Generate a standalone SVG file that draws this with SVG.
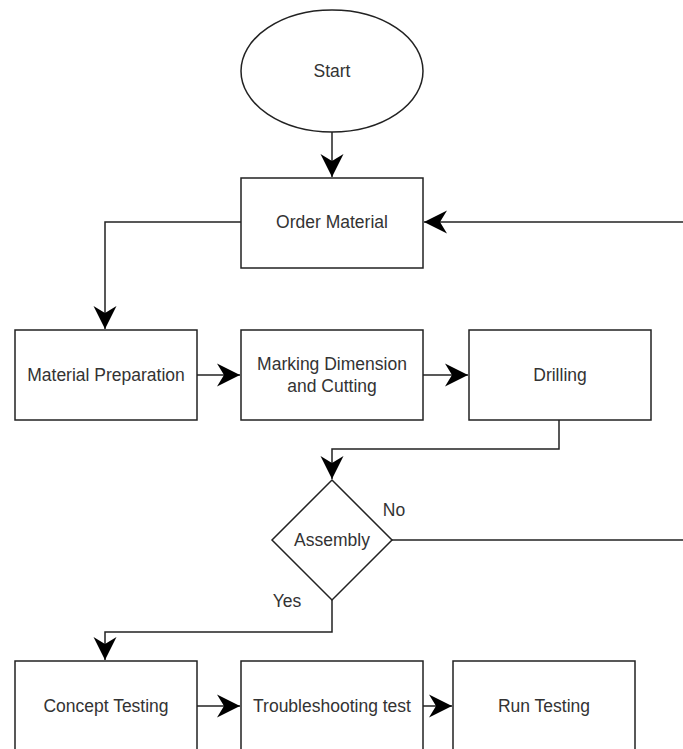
<svg xmlns="http://www.w3.org/2000/svg" width="683" height="749" viewBox="0 0 683 749">
<style>
.shape{fill:#fff;stroke:#222;stroke-width:1.5}
.edge{fill:none;stroke:#222;stroke-width:1.5}
text{font-family:"Liberation Sans",Arial,sans-serif;font-size:17.5px;fill:#333;text-anchor:middle;dominant-baseline:central}
</style>
<defs>
<marker id="arr" markerUnits="userSpaceOnUse" markerWidth="26" markerHeight="26" viewBox="-24 -13 26 26" refX="0" refY="0" orient="auto">
<path d="M0,0 L-23,-11.5 L-16,0 L-23,11.5 Z" fill="#000"/>
</marker>
</defs>
<rect width="683" height="749" fill="#fff"/>
<g id="connectors">
<path class="edge" d="M332,132 L332,177" marker-end="url(#arr)"/>
<path class="edge" d="M683,222 L424,222" marker-end="url(#arr)"/>
<path class="edge" d="M241,222 L105,222 L105,329" marker-end="url(#arr)"/>
<path class="edge" d="M197,375 L240,375" marker-end="url(#arr)"/>
<path class="edge" d="M423,375 L468,375" marker-end="url(#arr)"/>
<path class="edge" d="M559,420 L559,449 L332,449 L332,479" marker-end="url(#arr)"/>
<path class="edge" d="M392,540 L683,540"/>
<path class="edge" d="M332,600 L332,632 L105,632 L105,660" marker-end="url(#arr)"/>
<path class="edge" d="M197,706 L240,706" marker-end="url(#arr)"/>
<path class="edge" d="M423,706 L452,706" marker-end="url(#arr)"/>
<text x="394" y="510">No</text>
<text x="287" y="601">Yes</text>
</g>
<g id="start"><ellipse class="shape" cx="332" cy="71" rx="91" ry="61"/><text x="332" y="71">Start</text></g>
<g id="order"><rect class="shape" x="241" y="178" width="182" height="90"/><text x="332" y="222">Order Material</text></g>
<g id="prep"><rect class="shape" x="15" y="330" width="182" height="90"/><text x="106" y="375">Material Preparation</text></g>
<g id="marking"><rect class="shape" x="241" y="330" width="182" height="90"/><text x="332" y="364">Marking Dimension</text><text x="332" y="386">and Cutting</text></g>
<g id="drilling"><rect class="shape" x="469" y="330" width="182" height="90"/><text x="560" y="375">Drilling</text></g>
<g id="assembly"><polygon class="shape" points="332,480 392,540 332,600 272,540"/><text x="332" y="540">Assembly</text></g>
<g id="concept"><rect class="shape" x="15" y="661" width="182" height="100"/><text x="106" y="706">Concept Testing</text></g>
<g id="trouble"><rect class="shape" x="241" y="661" width="182" height="100"/><text x="332" y="706">Troubleshooting test</text></g>
<g id="run"><rect class="shape" x="453" y="661" width="182" height="100"/><text x="544" y="706">Run Testing</text></g>
</svg>
